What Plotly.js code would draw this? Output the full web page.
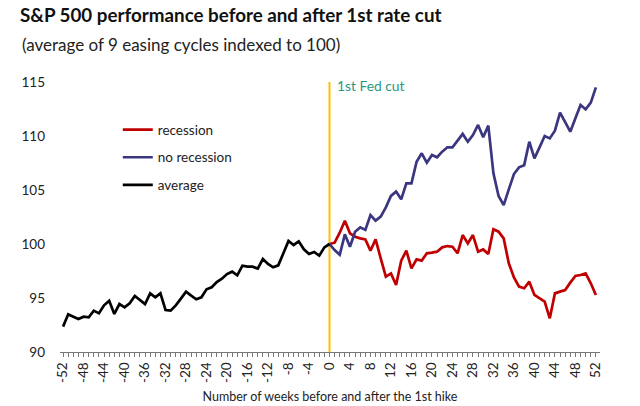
<!DOCTYPE html>
<html>
<head>
<meta charset="utf-8">
<script src="https://cdn.plot.ly/plotly-3.0.1.min.js"></script>
<style>html,body{margin:0;padding:0;background:#fff;}#chart{width:640px;height:406px;}</style>
</head>
<body>
<div id="chart"></div>
<script>
// Weeks relative to the 1st Fed cut
const weeksBefore = [];
for (let w = -52; w <= 0; w++) weeksBefore.push(w);
const weeksAfter = [];
for (let w = 0; w <= 52; w++) weeksAfter.push(w);

// average of all cycles, weeks -52..0
const averageValues = [
  92.35, 93.49, 93.27, 93.05, 93.27, 93.21, 93.83, 93.58, 94.32, 94.75,
  93.52, 94.44, 94.14, 94.51, 95.19, 94.81, 94.44, 95.43, 95.06, 95.43,
  93.89, 93.83, 94.32, 94.94, 95.59, 95.22, 94.88, 95.06, 95.80, 95.99,
  96.48, 96.79, 97.22, 97.44, 97.10, 97.99, 97.90, 97.90, 97.72, 98.61,
  98.15, 97.84, 98.02, 99.14, 100.28, 99.91, 100.25, 99.51, 99.07, 99.26,
  98.92, 99.69, 100.00
];

// recession cycles, weeks 0..52
const recessionValues = [
  100.00, 100.12, 101.05, 102.16, 100.99, 100.68, 100.52, 100.43, 99.38, 100.43,
  98.67, 96.97, 97.28, 96.20, 98.46, 99.38, 97.75, 98.58, 98.46, 99.14,
  99.20, 99.29, 99.69, 99.81, 99.75, 99.14, 100.83, 100.06, 100.83, 99.29,
  99.50, 99.07, 101.36, 101.14, 100.52, 98.21, 96.91, 96.05, 95.90, 96.51,
  95.28, 94.97, 94.66, 93.12, 95.43, 95.59, 95.74, 96.42, 97.04, 97.13,
  97.28, 96.36, 95.28
];

// no-recession cycles, weeks 0..52
const noRecessionValues = [
  100.00, 99.44, 99.00, 100.89, 99.75, 101.14, 101.54, 101.30, 102.68, 102.16,
  102.53, 103.40, 104.45, 104.85, 104.14, 105.62, 105.62, 107.62, 108.40, 107.53,
  108.24, 108.03, 108.55, 108.95, 108.95, 109.63, 110.19, 109.47, 110.09, 111.02,
  109.88, 110.96, 106.54, 104.45, 103.60, 105.06, 106.48, 107.10, 107.30, 109.47,
  107.93, 108.95, 110.00, 109.78, 110.49, 112.16, 111.23, 110.40, 111.64, 112.87,
  112.47, 113.09, 114.50
];

const xTickVals = [];
const xTickText = [];
for (let w = -52; w <= 52; w += 4) { xTickVals.push(w); xTickText.push(String(w)); }
const yTickVals = [90, 95, 100, 105, 110, 115];

const FONT = 'Lato, "Open Sans", sans-serif';

const traces = [
  { x: weeksAfter, y: recessionValues, name: 'recession', type: 'scatter', mode: 'lines',
    line: { color: '#C00000', width: 2.7 }, legendgroup: 'a' },
  { x: weeksAfter, y: noRecessionValues, name: 'no recession', type: 'scatter', mode: 'lines',
    line: { color: '#3B3680', width: 2.7 }, legendgroup: 'b' },
  { x: weeksBefore, y: averageValues, name: 'average', type: 'scatter', mode: 'lines',
    line: { color: '#000000', width: 2.7 }, legendgroup: 'c' }
];

const layout = {
  width: 640, height: 406,
  margin: { l: 60, r: 40, t: 82, b: 54 },
  paper_bgcolor: '#fff', plot_bgcolor: '#fff',
  font: { family: FONT, color: '#222' },
  title: {
    text: '<b>S&P 500 performance before and after 1st rate cut</b>',
    font: { family: FONT, size: 18.8, color: '#111' },
    xref: 'container', x: 20 / 640, xanchor: 'left',
    yref: 'container', y: 1 - 9 / 406, yanchor: 'top'
  },
  xaxis: {
    range: [-52.6, 52.8],
    tickvals: xTickVals, ticktext: xTickText, tickangle: -90,
    ticks: 'outside', ticklen: 4, tickcolor: '#777', tickwidth: 1,
    minor: { dtick: 1, ticks: 'outside', ticklen: 4, tickcolor: '#777', tickwidth: 1 },
    showline: true, linecolor: '#777', linewidth: 1,
    showgrid: false, zeroline: false,
    tickfont: { family: FONT, size: 13.5, color: '#222' },
    title: { text: 'Number of weeks before and after the 1st hike', font: { family: FONT, size: 12.5, color: '#222' }, standoff: 10 }
  },
  yaxis: {
    range: [90, 115], tickvals: yTickVals,
    showline: false, showgrid: false, zeroline: false, ticks: '',
    ticklabelstandoff: 14,
    tickfont: { family: FONT, size: 13.5, color: '#222' }
  },
  showlegend: true,
  legend: {
    x: 0.107, xanchor: 'left', y: 0.88, yanchor: 'top',
    bgcolor: 'rgba(0,0,0,0)', font: { family: FONT, size: 13.5, color: '#222' },
    traceorder: 'grouped', tracegroupgap: 7, itemwidth: 30
  },
  shapes: [
    { type: 'line', xref: 'x', yref: 'y', x0: 0, x1: 0, y0: 90, y1: 115,
      line: { color: '#FFC000', width: 2 }, layer: 'below' }
  ],
  annotations: [
    { x: -40 / 540, y: (352 - 45) / 270, xref: 'paper', yref: 'paper',
      text: '(average of 9 easing cycles indexed to 100)', showarrow: false,
      xanchor: 'left', yanchor: 'middle',
      font: { family: FONT, size: 17, color: '#222' } },
    { x: 0, y: 115, xref: 'x', yref: 'y', text: '1st Fed cut', showarrow: false,
      xanchor: 'left', yanchor: 'middle', xshift: 6, yshift: -3,
      font: { family: FONT, size: 13.8, color: '#2A9683' } }
  ]
};

Plotly.newPlot('chart', traces, layout, { displayModeBar: false, staticPlot: true });
</script>
</body>
</html>
